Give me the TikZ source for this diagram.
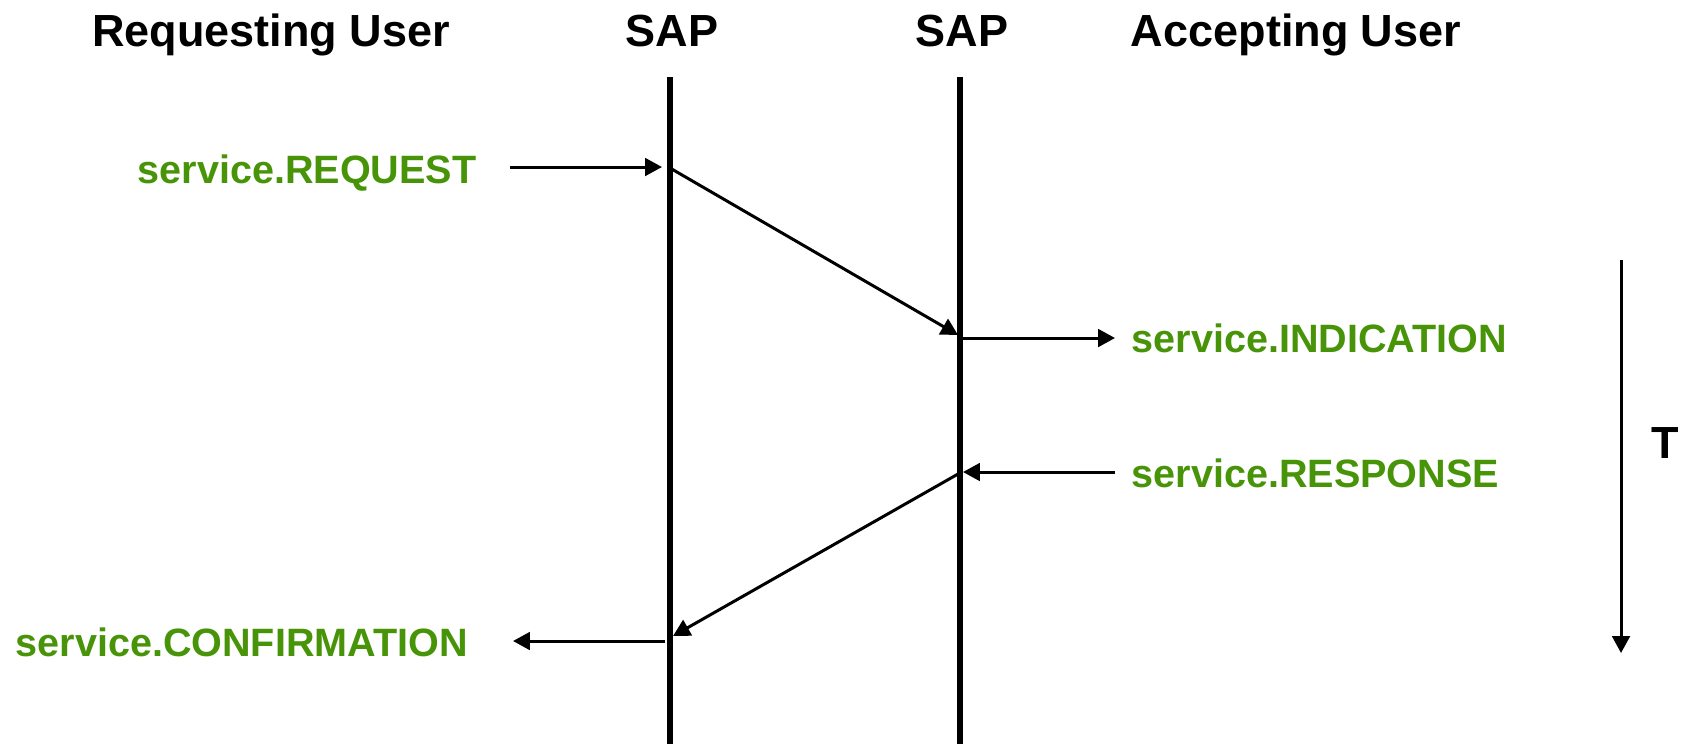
\documentclass[tikz,border=0pt]{standalone}
\usepackage{fontspec}
\setmainfont{Liberation Sans}
\usetikzlibrary{arrows.meta}
\definecolor{primgreen}{RGB}{72,148,8}

\begin{document}
\begin{tikzpicture}[x=0.01cm,y=-0.01cm,
        head/.style={font=\fontsize{12.8}{15}\selectfont\bfseries, inner sep=0pt, anchor=base},
        prim/.style={font=\fontsize{11.25}{13}\selectfont\bfseries, text=primgreen, inner sep=0pt, anchor=base west},
        lifeline/.style={line width=1.8pt},
        msg/.style={line width=0.85pt, -{Triangle[length=4.8pt,width=5pt]}}]
        \useasboundingbox (0,0) rectangle (1686,744);

        % column heads
        \node[head] (requser) at (271,46) {Requesting User};
        \node[head] (sapreq) at (672,46) {SAP};
        \node[head] (sapacc) at (962,46) {SAP};
        \node[head] (accuser) at (1296,46) {Accepting User};

        % the two SAP lines
        \coordinate (reqtop) at (670,77);
        \coordinate (reqbot) at (670,744);
        \coordinate (acctop) at (960,77);
        \coordinate (accbot) at (960,744);
        \draw[lifeline] (reqtop) -- (reqbot);
        \draw[lifeline] (acctop) -- (accbot);

        % primitives
        \node[prim] (request) at (137,183) {service.REQUEST};
        \node[prim] (indication) at (1131,352) {service.INDICATION};
        \node[prim] (response) at (1131,487) {service.RESPONSE};
        \node[prim] (confirm) at (15,656) {service.CONFIRMATION};

        \coordinate (reqin) at (510,167);
        \coordinate (reqsap) at (662,167);
        \coordinate (reqout) at (670,168);
        \coordinate (indsap) at (958,335);
        \coordinate (indout) at (962,338);
        \coordinate (indend) at (1115,338);
        \coordinate (resin) at (1115,472);
        \coordinate (ressap) at (963,472);
        \coordinate (resout) at (958,474);
        \coordinate (consap) at (673,636);
        \coordinate (conout) at (665,641);
        \coordinate (conend) at (513,641);

        \draw[msg] (reqin) -- (reqsap);
        \draw[msg] (reqout) -- (indsap);
        \draw[msg] (indout) -- (indend);
        \draw[msg] (resin) -- (ressap);
        \draw[msg] (resout) -- (consap);
        \draw[msg] (conout) -- (conend);

        % time axis
        \coordinate (ttop) at (1621,260);
        \coordinate (tbot) at (1621,653);
        \draw[msg] (ttop) -- (tbot);
        \node[head] (tlabel) at (1665,458) {T};

    \end{tikzpicture}
\end{document}
